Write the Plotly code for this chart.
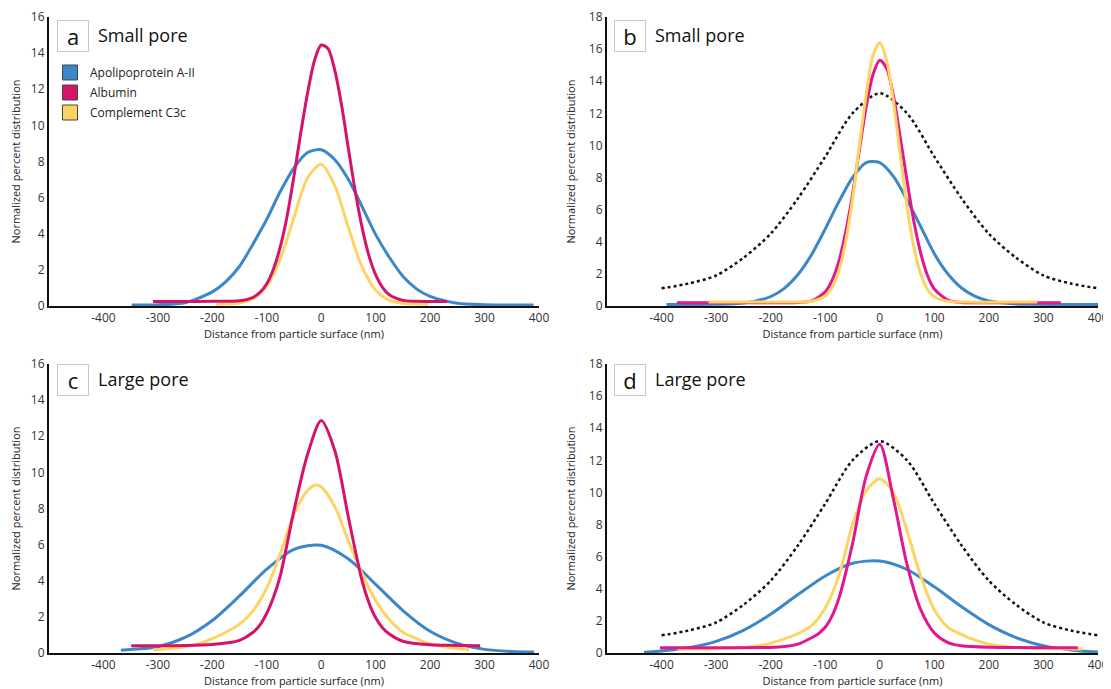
import plotly.graph_objects as go

# ---------------- data ----------------
SERIES_NAMES = ["Apolipoprotein A-II", "Albumin", "Complement C3c"]
X_TICKS = [-400, -300, -200, -100, 0, 100, 200, 300, 400]
X_TICK_LABELS = ["-400", "-300", "-200", "-100", "0", "100", "200", "300", "400"]

# Panel a - small pore
A_X_APO = [-348, -300, -250, -200, -175, -150, -125, -100, -75, -50, -25, 0, 25, 50, 75, 100, 125, 150, 175, 200, 250, 300, 350, 390]
A_Y_APO = [0.05, 0.07, 0.18, 0.78, 1.35, 2.2, 3.45, 4.8, 6.35, 7.65, 8.5, 8.65, 8.1, 7.0, 5.5, 3.95, 2.7, 1.65, 0.95, 0.53, 0.15, 0.07, 0.05, 0.05]
A_X_ALB = [-309, -250, -200, -150, -125, -112.5, -100, -87.5, -75, -62.5, -50, -37.5, -25, -12.5, 0, 12.5, 25, 37.5, 50, 62.5, 75, 87.5, 100, 112.5, 125, 150, 175, 231]
A_Y_ALB = [0.25, 0.25, 0.26, 0.29, 0.48, 0.75, 1.23, 2.06, 3.3, 5.0, 7.2, 9.6, 11.8, 13.58, 14.45, 14.25, 13.04, 11.1, 8.7, 6.35, 4.35, 2.8, 1.72, 1.03, 0.62, 0.31, 0.26, 0.25]
A_X_C3C = [-193, -175, -150, -125, -100, -75, -50, -25, 0, 25, 50, 75, 100, 125, 150, 175, 196]
A_Y_C3C = [0.1, 0.11, 0.17, 0.41, 1.1, 2.62, 4.9, 7.1, 7.85, 6.65, 4.33, 2.16, 0.87, 0.32, 0.15, 0.11, 0.1]

# Panel b - small pore (with reference distribution)
B_X_APO = [-391, -350, -300, -250, -200, -175, -150, -125, -100, -75, -50, -25, 0, 25, 50, 75, 100, 125, 150, 175, 200, 250, 300, 350, 400]
B_Y_APO = [0.1, 0.1, 0.11, 0.18, 0.59, 1.1, 1.96, 3.2, 4.8, 6.5, 8.0, 8.93, 8.93, 8.07, 6.6, 4.95, 3.26, 1.99, 1.12, 0.6, 0.32, 0.13, 0.1, 0.1, 0.1]
B_X_ALB = [-372, -300, -200, -150, -125, -100, -87.5, -75, -62.5, -50, -37.5, -25, -12.5, 0, 12.5, 25, 37.5, 50, 62.5, 75, 87.5, 100, 125, 150, 200, 332]
B_Y_ALB = [0.2, 0.2, 0.2, 0.22, 0.32, 0.88, 1.6, 2.78, 4.6, 6.95, 9.7, 12.4, 14.4, 15.3, 14.8, 13.1, 10.5, 7.8, 5.26, 3.3, 1.9, 1.06, 0.37, 0.22, 0.2, 0.2]
B_X_C3C = [-314, -200, -150, -125, -100, -87.5, -75, -62.5, -50, -37.5, -25, -12.5, 0, 12.5, 25, 37.5, 50, 62.5, 75, 87.5, 100, 125, 150, 289]
B_Y_C3C = [0.25, 0.25, 0.25, 0.29, 0.62, 1.15, 2.19, 4.0, 6.65, 9.95, 13.15, 15.6, 16.4, 15.3, 12.75, 9.4, 6.15, 3.67, 2.0, 1.03, 0.56, 0.29, 0.25, 0.25]
B_X_REF = [-400, -350, -300, -250, -200, -150, -100, -50, 0, 50, 100, 150, 200, 250, 300, 350, 400]
B_Y_REF = [1.1, 1.4, 1.9, 3.0, 4.5, 6.7, 9.3, 12.0, 13.25, 12.0, 9.3, 6.7, 4.5, 3.0, 1.9, 1.4, 1.1]

# Panel c - large pore
C_X_APO = [-368, -350, -300, -250, -200, -150, -100, -50, 0, 50, 100, 150, 200, 250, 300, 350, 391]
C_Y_APO = [0.15, 0.2, 0.35, 0.86, 1.8, 3.16, 4.64, 5.74, 5.96, 5.2, 3.8, 2.35, 1.2, 0.53, 0.2, 0.08, 0.05]
C_X_ALB = [-349, -250, -200, -175, -150, -125, -112.5, -100, -87.5, -75, -50, -25, 0, 25, 50, 75, 87.5, 100, 112.5, 125, 150, 200, 250, 292]
C_Y_ALB = [0.4, 0.42, 0.47, 0.55, 0.7, 1.15, 1.55, 2.2, 3.1, 4.3, 7.9, 11.0, 12.87, 11.2, 7.5, 4.0, 2.8, 1.95, 1.4, 1.05, 0.65, 0.45, 0.42, 0.4]
C_X_C3C = [-309, -275, -250, -225, -200, -175, -150, -125, -100, -75, -50, -25, -10, 0, 25, 50, 75, 100, 125, 150, 175, 200, 225, 250, 272]
C_Y_C3C = [0.18, 0.25, 0.35, 0.52, 0.8, 1.15, 1.6, 2.35, 3.6, 5.5, 7.7, 9.0, 9.3, 9.2, 8.1, 6.2, 4.4, 2.9, 1.85, 1.15, 0.8, 0.5, 0.35, 0.25, 0.18]

# Panel d - large pore (with reference distribution)
D_X_APO = [-432, -400, -350, -300, -250, -200, -150, -100, -50, 0, 50, 100, 150, 200, 250, 300, 350, 403]
D_Y_APO = [0.04, 0.13, 0.33, 0.72, 1.41, 2.41, 3.64, 4.8, 5.59, 5.73, 5.2, 4.12, 2.88, 1.77, 0.96, 0.46, 0.19, 0.05]
D_X_ALB = [-403, -300, -200, -175, -150, -125, -112.5, -100, -87.5, -75, -50, -25, 0, 25, 50, 75, 100, 125, 150, 200, 363]
D_Y_ALB = [0.33, 0.33, 0.35, 0.4, 0.55, 0.95, 1.2, 1.6, 2.3, 3.4, 6.8, 11.0, 13.0, 9.6, 5.5, 2.7, 1.25, 0.65, 0.45, 0.36, 0.33]
D_X_C3C = [-372, -300, -250, -200, -175, -150, -125, -100, -75, -50, -25, 0, 25, 50, 75, 100, 125, 150, 175, 200, 250, 300, 372]
D_Y_C3C = [0.25, 0.27, 0.35, 0.6, 0.88, 1.2, 1.7, 2.8, 4.8, 8.0, 10.1, 10.85, 10.0, 7.6, 4.8, 2.7, 1.6, 1.15, 0.8, 0.55, 0.35, 0.28, 0.25]
D_X_REF = [-400, -350, -300, -250, -200, -150, -100, -50, 0, 50, 100, 150, 200, 250, 300, 350, 400]
D_Y_REF = [1.1, 1.4, 1.9, 3.0, 4.5, 6.7, 9.3, 12.0, 13.2, 12.0, 9.3, 6.7, 4.5, 3.0, 1.9, 1.4, 1.1]

# ---------------- style ----------------
OFF = 8                 # page body margin of the html page
W, H = 1111, 689
FONT = "Open Sans"
BLUE = "#3b87c8"
CRIMSON = "#d5136a"
MAGENTA = "#e2168f"
YELLOW = "#fdd462"
TXT = "#333333"


def px(x):
    return (x - OFF) / W


def py(y):
    return 1 - (y - OFF) / H


fig = go.Figure()


def line(x, y, color, ax, width=3, dash=None, smoothing=0.8):
    fig.add_trace(go.Scatter(
        x=x, y=y, mode="lines", showlegend=False, hoverinfo="skip",
        line=dict(color=color, width=width, shape="spline", smoothing=smoothing, dash=dash),
        xaxis="x" + ax, yaxis="y" + ax))


# panel a
line(A_X_APO, A_Y_APO, BLUE, "")
line(A_X_C3C, A_Y_C3C, YELLOW, "")
line(A_X_ALB, A_Y_ALB, CRIMSON, "")
# panel b
line(B_X_REF, B_Y_REF, "#111111", "2", width=2.5, dash="dot")
line(B_X_APO, B_Y_APO, BLUE, "2")
line(B_X_ALB, B_Y_ALB, MAGENTA, "2")
line(B_X_C3C, B_Y_C3C, YELLOW, "2")
# panel c
line(C_X_APO, C_Y_APO, BLUE, "3")
line(C_X_C3C, C_Y_C3C, YELLOW, "3")
line(C_X_ALB, C_Y_ALB, CRIMSON, "3")
# panel d
line(D_X_REF, D_Y_REF, "#111111", "4", width=2.5, dash="dot")
line(D_X_APO, D_Y_APO, BLUE, "4")
line(D_X_C3C, D_Y_C3C, YELLOW, "4")
line(D_X_ALB, D_Y_ALB, MAGENTA, "4")

# legend entries (square swatches)
for name, col in zip(SERIES_NAMES, [BLUE, CRIMSON, YELLOW]):
    fig.add_trace(go.Scatter(
        x=[None], y=[None], mode="markers", name=name, legendgroup=name,
        marker=dict(symbol="square", size=15, color=col, line=dict(color="#444", width=1)),
        xaxis="x", yaxis="y"))

XL = [px(49), px(539)]
XR = [px(607), px(1098)]
YT = [py(306), py(17)]
YB = [py(653), py(364)]

common = dict(showline=True, linecolor="#111111", linewidth=2, ticks="", showgrid=False,
              zeroline=False, tickfont=dict(family=FONT, size=12, color=TXT), automargin=False)
xcommon = dict(common, range=[-500, 400], tickvals=X_TICKS, ticktext=X_TICK_LABELS,
               title=dict(text="Distance from particle surface (nm)", font=dict(family=FONT, size=11, color="#222"), standoff=2))
ycommon = dict(common, title=dict(text="Normalized percent distribution", font=dict(family=FONT, size=11, color="#222"), standoff=11))

fig.update_layout(
    width=W, height=H, margin=dict(l=0, r=0, t=0, b=0),
    paper_bgcolor="white", plot_bgcolor="white",
    font=dict(family=FONT, color=TXT),
    xaxis=dict(xcommon, domain=XL, anchor="y"),
    yaxis=dict(ycommon, domain=YT, anchor="x", range=[0, 16], tickvals=list(range(0, 17, 2))),
    xaxis2=dict(xcommon, domain=XR, anchor="y2"),
    yaxis2=dict(ycommon, domain=YT, anchor="x2", range=[0, 18], tickvals=list(range(0, 19, 2))),
    xaxis3=dict(xcommon, domain=XL, anchor="y3"),
    yaxis3=dict(ycommon, domain=YB, anchor="x3", range=[0, 16], tickvals=list(range(0, 17, 2))),
    xaxis4=dict(xcommon, domain=XR, anchor="y4"),
    yaxis4=dict(ycommon, domain=YB, anchor="x4", range=[0, 18], tickvals=list(range(0, 19, 2))),
    legend=dict(x=px(50), y=py(58), xanchor="left", yanchor="top", bgcolor="rgba(0,0,0,0)",
                font=dict(family=FONT, size=12, color="#222"), tracegroupgap=1, itemclick=False),
    showlegend=True,
)

panels = [("a", "Small pore", 73, 36), ("b", "Small pore", 630, 36),
          ("c", "Large pore", 73, 380), ("d", "Large pore", 630, 380)]
for letter, label, cx, cy in panels:
    fig.add_annotation(x=px(cx), y=py(cy), xref="paper", yref="paper", text=letter,
                       showarrow=False, xanchor="center", yanchor="middle", width=28, height=28,
                       borderpad=1, bordercolor="#c8c8c8", borderwidth=1,
                       font=dict(family=FONT, size=22, color="#111"))
    fig.add_annotation(x=px(cx + 23), y=py(cy - 1), xref="paper", yref="paper", text=label,
                       showarrow=False, xanchor="left", yanchor="middle",
                       font=dict(family=FONT, size=18, color="#111"))

fig.write_html("out.html")
